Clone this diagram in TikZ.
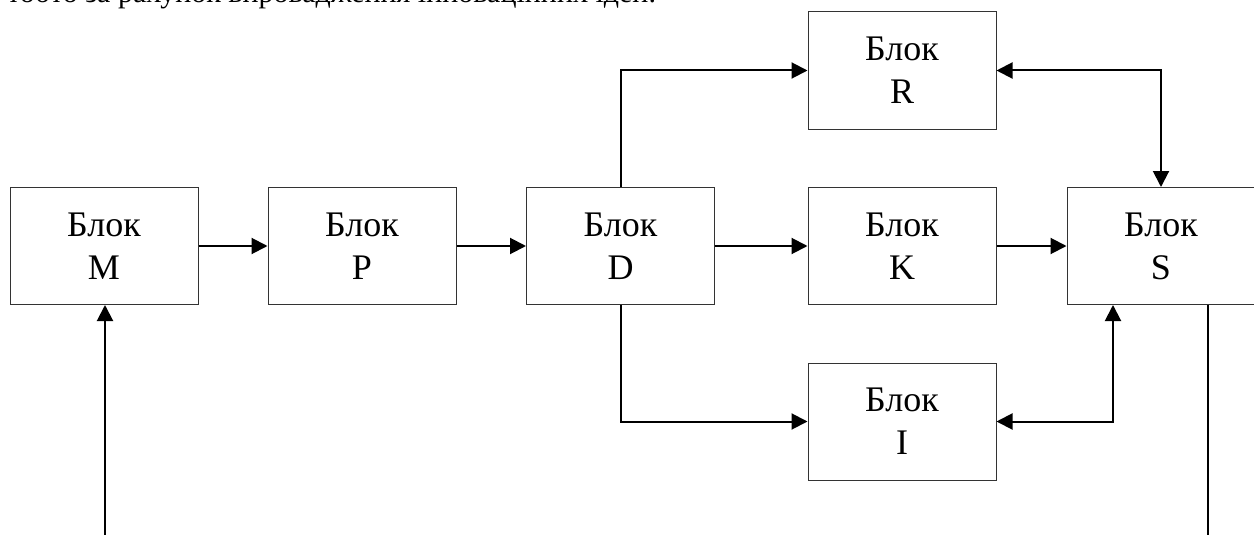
\documentclass[tikz,border=0pt]{standalone}
\usepackage{fontspec}
\setmainfont{Liberation Serif}
\usetikzlibrary{arrows.meta}
\begin{document}
\begin{tikzpicture}[x=1pt,y=-1pt,
  blk/.style={draw=black!80,line width=1pt,minimum width=188pt,minimum height=117pt,inner sep=0pt,align=center,font=\fontsize{36}{43}\selectfont},
  conn/.style={line width=2pt,-{Triangle[length=16pt,width=16pt]}},
  biconn/.style={line width=2pt,{Triangle[length=16pt,width=16pt]}-{Triangle[length=16pt,width=16pt]}},
  plain/.style={line width=2pt}]
\clip (0,0) rectangle (1254,535);
\fill[white] (0,0) rectangle (1254,535);
\node[anchor=base west,inner sep=0pt,font=\fontsize{30}{36}\selectfont] (top) at (7,2.5) {тобто за рахунок впровадження інноваційних ідей.};
\node[blk] (M) at (104,246) {Блок\\M};
\node[blk] (P) at (362,246) {Блок\\P};
\node[blk] (D) at (620.5,246) {Блок\\D};
\node[blk] (K) at (902,246) {Блок\\K};
\node[blk] (S) at (1161,246) {Блок\\S};
\node[blk] (R) at (902,70.5) {Блок\\R};
\node[blk] (I) at (902,421.5) {Блок\\I};
\coordinate (min) at (105,535);
\coordinate (sout) at (1208,535);
\draw[conn] (M) -- (P);
\draw[conn] (P) -- (D);
\draw[conn] (D) -- (K);
\draw[conn] (K) -- (S);
\draw[conn] (D.north) |- (R.west);
\draw[conn] (D.south) |- (I.west);
\draw[biconn] (R.east) -| (S.north);
\draw[biconn] (I.east) -| ([xshift=-48pt]S.south);
\draw[conn] (min) -- (M.south -| min);
\draw[plain] (S.south -| sout) -- (sout);
\end{tikzpicture}
\end{document}
